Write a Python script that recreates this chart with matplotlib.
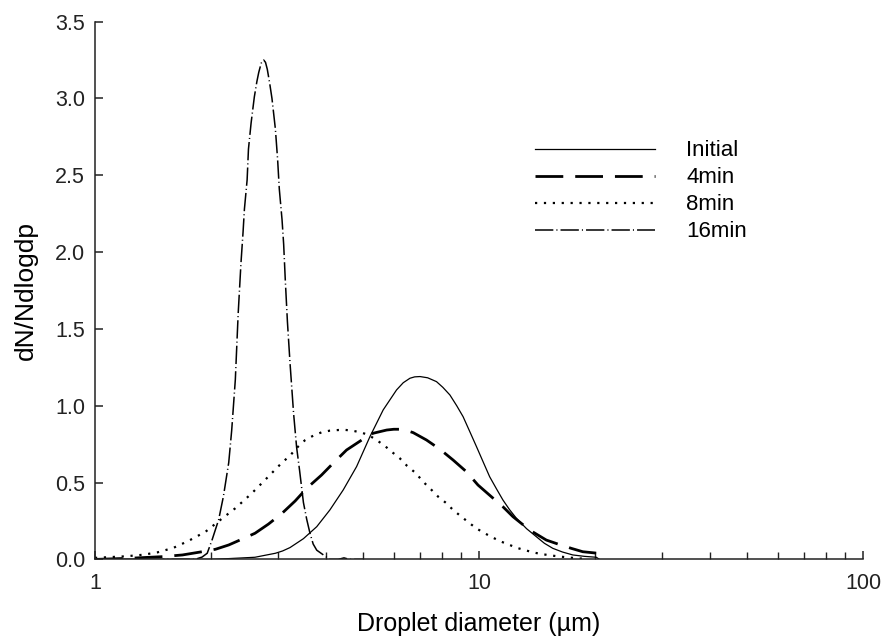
import numpy as np
import matplotlib
matplotlib.use('Agg')
import matplotlib.pyplot as plt

plt.rcParams['font.family'] = ['Liberation Sans', 'DejaVu Sans']

# Initial
x_init = [1.0, 2.0, 2.22, 2.61, 2.95, 3.08, 3.22, 3.49, 3.78, 4.09, 4.43, 4.80, 5.20,
          5.63, 6.10, 6.35, 6.61, 6.80, 7.02, 7.35, 7.75, 8.05, 8.40, 8.75, 9.09, 9.45,
          9.85, 10.25, 10.66, 11.1, 11.54, 12.0, 12.51, 13.3, 14.10, 14.8, 15.57, 16.5,
          17.55, 18.8, 20.2, 20.6]
y_init = [0.0, 0.0, 0.005, 0.014, 0.04, 0.055, 0.077, 0.135, 0.213, 0.322, 0.452, 0.604,
          0.799, 0.973, 1.103, 1.15, 1.179, 1.188, 1.19, 1.182, 1.157, 1.12, 1.07, 1.0,
          0.929, 0.835, 0.734, 0.635, 0.538, 0.46, 0.387, 0.325, 0.268, 0.2, 0.148,
          0.105, 0.072, 0.048, 0.029, 0.02, 0.014, 0.0]

# 4 min
x_4 = [1.0, 1.22, 1.50, 1.69, 1.90, 2.06, 2.23, 2.41, 2.61, 2.83, 3.07, 3.32, 3.56, 3.89,
       4.17, 4.52, 4.95, 5.30, 5.75, 6.0, 6.22, 6.5, 6.74, 7.30, 7.91, 8.56, 9.27, 9.94,
       10.77, 11.54, 12.26, 13.55, 14.97, 16.05, 17.39, 18.63, 20.39]
y_4 = [0.0, 0.007, 0.018, 0.029, 0.05, 0.066, 0.094, 0.131, 0.17, 0.23, 0.30, 0.38,
       0.463, 0.549, 0.626, 0.712, 0.777, 0.821, 0.842, 0.847, 0.847, 0.838, 0.825,
       0.777, 0.717, 0.647, 0.571, 0.484, 0.408, 0.343, 0.278, 0.191, 0.126, 0.10,
       0.072, 0.05, 0.04]

# 8 min
x_8 = [1.0, 1.2, 1.33, 1.45, 1.60, 1.75, 1.94, 2.12, 2.32, 2.56, 2.80, 3.07, 3.22, 3.35,
       3.52, 3.70, 3.89, 4.09, 4.30, 4.48, 4.70, 4.95, 5.15, 5.41, 5.69, 5.92, 6.22,
       6.50, 6.85, 7.15, 7.45, 7.83, 8.23, 8.56, 9.00, 9.46, 9.84, 10.35, 10.88, 11.44,
       12.02, 12.51, 13.15, 13.81, 14.53, 15.27, 16.05, 16.87, 17.73, 19.0]
y_8 = [0.01, 0.02, 0.03, 0.045, 0.075, 0.12, 0.18, 0.257, 0.333, 0.43, 0.528, 0.63,
       0.675, 0.725, 0.775, 0.805, 0.827, 0.838, 0.842, 0.843, 0.837, 0.825, 0.81,
       0.777, 0.738, 0.701, 0.658, 0.608, 0.561, 0.506, 0.463, 0.408, 0.365, 0.322,
       0.278, 0.235, 0.202, 0.17, 0.141, 0.115, 0.094, 0.076, 0.061, 0.046, 0.035,
       0.027, 0.02, 0.014, 0.009, 0.003]

# 16 min
x_16 = [1.0, 1.82, 1.90, 1.96, 2.02, 2.10, 2.16, 2.23, 2.27, 2.32, 2.36, 2.40, 2.43,
        2.45, 2.49, 2.51, 2.55, 2.60, 2.64, 2.67, 2.71, 2.75, 2.78, 2.81, 2.85, 2.89,
        2.95, 2.99, 3.02, 3.07, 3.10, 3.13, 3.17, 3.22, 3.29, 3.35, 3.41, 3.49, 3.56,
        3.63, 3.70, 3.78, 3.93, 4.09, 4.3, 4.45, 4.6, 5.0]
y_16 = [0.0, 0.0, 0.015, 0.04, 0.13, 0.26, 0.41, 0.63, 0.84, 1.17, 1.60, 1.93, 2.13,
        2.28, 2.47, 2.67, 2.84, 3.01, 3.11, 3.17, 3.23, 3.25, 3.235, 3.19, 3.10, 3.00,
        2.80, 2.60, 2.41, 2.21, 2.05, 1.82, 1.55, 1.28, 0.95, 0.73, 0.58, 0.37, 0.26,
        0.17, 0.10, 0.06, 0.03, 0.0, 0.0, 0.01, 0.0, 0.0]

fig = plt.figure(figsize=(8.81, 6.43), dpi=100)
ax = fig.add_axes([0.1078, 0.1300, 0.8718, 0.8364])

ax.plot(x_init, y_init, color='black', lw=0.9, linestyle='-', label='Initial')
ax.plot(x_4, y_4, color='black', lw=2.0, linestyle=(0, (10, 4.3)), label='4min')
ax.plot(x_8, y_8, color='black', lw=1.6, linestyle=(0, (1, 3)), label='8min')
ax.plot(x_16, y_16, color='black', lw=1.1,
        linestyle=(0, (12, 2, 0.7, 2)), label='16min')

ax.set_xscale('log')
ax.set_xlim(1, 100)
ax.set_ylim(0, 3.5)
ax.set_xticks([1, 10, 100])
ax.set_xticklabels(['1', '10', '100'])
ax.set_yticks(np.arange(0, 3.51, 0.5))
ax.set_yticklabels(['%.1f' % v for v in np.arange(0, 3.51, 0.5)])

for s in ['top', 'right']:
    ax.spines[s].set_visible(False)
for s in ['left', 'bottom']:
    ax.spines[s].set_linewidth(1.1)
    ax.spines[s].set_color('#222222')

ax.tick_params(axis='both', which='both', direction='in', colors='#222222',
               labelsize=15.5)
ax.tick_params(axis='y', length=6, width=1.1, pad=7)
ax.tick_params(axis='x', which='major', length=6, width=1.1, pad=10)
ax.tick_params(axis='x', which='minor', length=5, width=1.0)

ax.set_xlabel('Droplet diameter (µm)', fontsize=18, labelpad=13)
ax.set_ylabel('dN/Ndlogdp', fontsize=19, labelpad=12)

ax.legend(loc='upper left', bbox_to_anchor=(0.573, 0.779), frameon=False,
          fontsize=16, handlelength=5.4, handletextpad=1.4, labelspacing=0.27,
          borderpad=0, borderaxespad=0)

fig.savefig('out.png', dpi=100)
